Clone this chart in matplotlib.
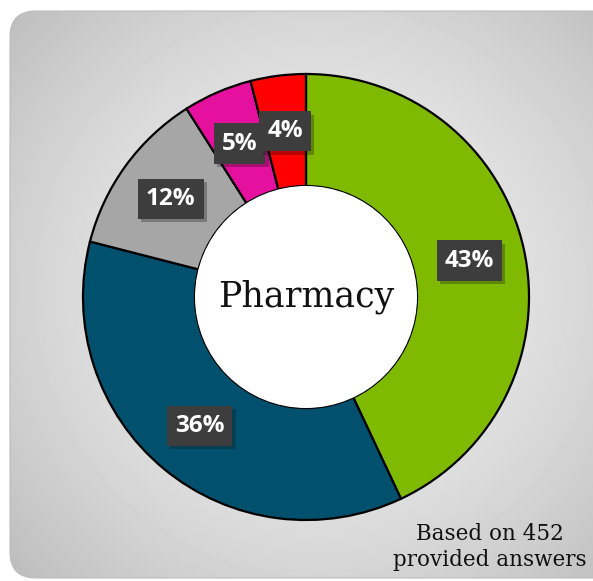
import numpy as np
import matplotlib.pyplot as plt
from matplotlib.patches import FancyBboxPatch, Circle
from matplotlib import patheffects as pe

# share of answers per pharmacy response
shares = [43, 36, 12, 5, 4]
colors = ['#7fba00', '#00506e', '#a6a6a6', '#e6109e', '#ff0000']
center_title = 'Pharmacy'
footnote = 'Based on 452\nprovided answers'

W, H = 593, 581
fig = plt.figure(figsize=(W / 100, H / 100), dpi=100)
ax = fig.add_axes([0, 0, 1, 1])

# rounded grey panel with a soft radial gradient
panel = FancyBboxPatch((10, 3), 584 + 30, H - 14, boxstyle='round,pad=0,rounding_size=26',
                       facecolor='none', edgecolor='#bdbdbd', linewidth=0.8, zorder=1)
ax.add_patch(panel)
yy, xx = np.mgrid[0:H, 0:W]
d = np.hypot(xx - 320, yy - 290) / 420
shade = np.clip(0.94 - 0.20 * d ** 1.6, 0, 1)
img = ax.imshow(shade, cmap='gray', vmin=0, vmax=1, extent=(0, W, 0, H),
                origin='lower', zorder=0)
img.set_clip_path(panel)

cx, cy = 306, H - 297
R = 223
wedges, _, autotexts = ax.pie(
    shares, colors=colors, startangle=90, counterclock=False,
    center=(cx, cy), radius=R, autopct='%.0f%%', pctdistance=0.75,
    wedgeprops=dict(width=R - 111, edgecolor='black', linewidth=1.6),
    textprops=dict(color='white', fontsize=17.5, fontweight='bold', family='Open Sans'))
for w in wedges:
    w.set_zorder(2)

ax.add_patch(Circle((cx, cy), 111, facecolor='white', edgecolor='none', zorder=2))

for t in autotexts:
    t.set_zorder(5)
    t.set_bbox(dict(boxstyle='square,pad=0.33', facecolor='#3d3d3d',
                    edgecolor='#3d3d3d', linewidth=0))
    t.get_bbox_patch().set_path_effects(
        [pe.SimplePatchShadow(offset=(2.5, -2.5), alpha=0.3), pe.Normal()])

ax.text(cx, cy, center_title, ha='center', va='center', fontsize=25,
        family='DejaVu Serif', color='#111111', zorder=4)
ax.text(490, 34, footnote, ha='center', va='center', fontsize=15.5,
        family='DejaVu Serif', color='#111111', linespacing=1.2, zorder=4)

ax.set_xlim(0, W)
ax.set_ylim(0, H)
ax.set_aspect('auto')
ax.axis('off')

fig.savefig('out.png', dpi=100, facecolor='white')
